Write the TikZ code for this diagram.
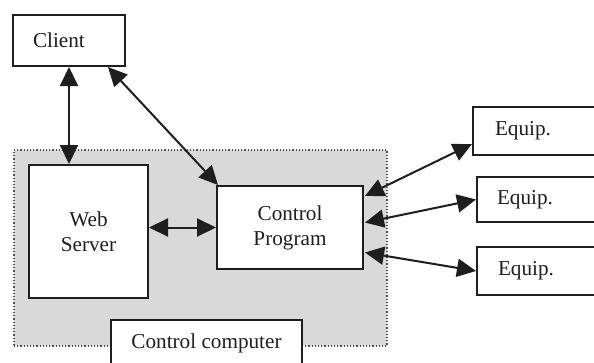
\documentclass[tikz,border=0pt]{standalone}
\usepackage{fontspec}
\setmainfont{Liberation Serif}
\usetikzlibrary{arrows.meta,calc}
\definecolor{areagray}{HTML}{D9D9D9}
\definecolor{ink}{HTML}{1E1E1E}
\begin{document}
\begin{tikzpicture}[x=1pt,y=-1pt,
  box/.style={draw=ink,line width=2pt,fill=white,inner sep=0pt,
    font=\fontsize{21.2}{25}\selectfont,text=ink},
  link/.style={ink,line width=2pt,{Triangle[length=19pt,width=18pt]}-{Triangle[length=19pt,width=18pt]}},
]
\useasboundingbox (0,0) rectangle (594,362);
\fill[white] (0,0) rectangle (594,362);
\node[draw=ink!80,dotted,line width=1.2pt,fill=areagray,minimum width=373pt,minimum height=196pt,inner sep=0pt] (area) at (200.5,248) {};
\node[box,minimum height=51pt,text width=72pt,inner xsep=20pt,align=left] (cl) at (69,40.5) {Client};
\node[box,minimum width=119pt,minimum height=133pt,align=center] (ws) at (88.5,231.5) {Web\\Server};
\node[box,minimum width=146pt,minimum height=83pt,align=center] (cp) at (290,227.5) {Control\\Program};
\node[box,minimum width=191pt,minimum height=46pt] (cc) at (206.5,343) {Control computer};
\node[box,minimum height=48pt,text width=106pt,inner xsep=22pt,align=left] (e1) at (548,131) {Equip.};
\node[box,minimum height=45pt,text width=106pt,inner xsep=20pt,align=left] (e2) at (550,199.5) {Equip.};
\node[box,minimum height=48pt,text width=106pt,inner xsep=21pt,align=left] (e3) at (551,271) {Equip.};
\draw[link] (cl.south) -- (cl.south |- ws.north);
\draw[link] ($(cl.south east)+(-18,0)$) -- ($(cp.north west)+(2,0)$);
\draw[link] (ws.east |- cp.west) -- (cp.west);
\draw[link] ($(cp.north east)+(1,11)$) -- ($(e1.west)+(0,13)$);
\draw[link] ($(cp.east)+(1,-5)$) -- (e2.west);
\draw[link] ($(cp.east)+(1,25)$) -- (e3.west);
\end{tikzpicture}
\end{document}
